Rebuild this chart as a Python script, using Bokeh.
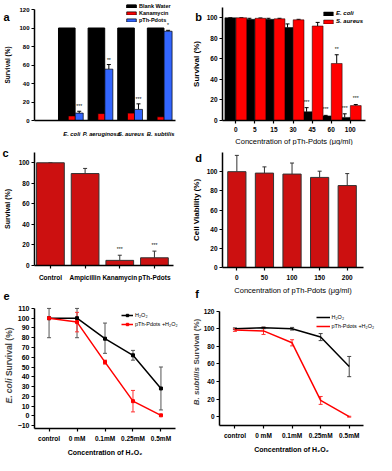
import numpy as np
from bokeh.plotting import figure
from bokeh.models import (Range1d, FixedTicker, Whisker, TeeHead, ColumnDataSource,
                          Legend, LegendItem, Label)
from bokeh.layouts import gridplot
from bokeh.embed import file_html
from bokeh.resources import INLINE
from bokeh.core.properties import value

FONT = "Liberation Sans"

# ---------------- data ----------------
# Panel a
a_species = ["E. coli", "P. aeruginosa", "S. aureus", "B. subtilis"]
a_water = [100, 100, 100, 100]
a_kana = [5, 7.5, 8, 4]
a_kana_err = [1, 1.5, 2.5, 0.5]
a_pdots = [8, 55.5, 12, 96.5]
a_pdots_err = [2, 5, 6, 1]
a_kana_sig = ["***", "***", "***", "***"]
a_pdots_sig = ["***", "**", "***", "*"]

# Panel b
b_conc = ["0", "5", "15", "30", "45", "60", "100"]
b_ecoli = [100, 98.5, 98.5, 90.5, 8.5, 4.5, 3]
b_ecoli_err = [0, 1, 1, 3.5, 4, 0.5, 3.5]
b_saureus = [100, 99.5, 99, 98, 92, 55.5, 14.5]
b_saureus_err = [0, 0.3, 0.5, 0.5, 3.5, 8.5, 1]
b_ecoli_sig = ["", "", "", "", "***", "***", "***"]
b_saureus_sig = ["", "", "", "", "", "**", "***"]

# Panel c
c_treat = ["Control", "Ampicillin", "Kanamycin", "pTh-Pdots"]
c_surv = [100, 89.5, 5, 7.5]
c_err = [0, 5, 5, 6.5]
c_sig = ["", "", "***", "***"]

# Panel d
d_conc = ["0", "50", "100", "150", "200"]
d_viab = [100, 98.5, 97.5, 94, 85.5]
d_err = [17, 6.5, 11.5, 6.5, 12.5]

# Panels e / f
h_cats = ["control", "0 mM", "0.1mM", "0.25mM", "0.5mM"]
e_h2o2 = [100, 100, 79, 62, 28]
e_h2o2_lo = [80, 80, 64, 57, 6]
e_h2o2_hi = [110, 110, 95, 67, 50]
e_pd = [100, 96, 55, 15, 0.5]
e_pd_lo = [100, 86, 53, 4, 0]
e_pd_hi = [100, 106, 57, 26, 1]

f_h2o2 = [100, 101, 100, 90.5, 57]
f_h2o2_err = [1, 1, 1.5, 4, 11.5]
f_pd = [98.5, 97.5, 84, 18.5, 0]
f_pd_err = [1.5, 4, 3.5, 4.5, 0.5]

RED = "#ff0000"
BLUE = "#3366ff"
DRED = "#cc1010"


# ---------------- helpers ----------------
def make_fig(w, h, xr, yr, bl, br, bt, bb, tick_size="6.5px", ybounds=None):
    """Frame fills the whole canvas; axes are pinned at the data edges (xr[0], yr[0])."""
    sx = (xr[1] - xr[0]) / (w - bl - br)
    sy = (yr[1] - yr[0]) / (h - bt - bb)
    xrange = Range1d(xr[0] - bl * sx, xr[1] + br * sx)
    yrange = Range1d(yr[0] - bb * sy, yr[1] + bt * sy)
    p = figure(width=w, height=h, x_range=xrange, y_range=yrange,
               output_backend="svg", toolbar_location=None,
               min_border_left=0, min_border_right=0,
               min_border_top=0, min_border_bottom=0)
    p.outline_line_color = None
    p.xgrid.visible = False
    p.ygrid.visible = False
    p.yaxis.fixed_location = xr[0]
    p.xaxis.fixed_location = yr[0]
    p.yaxis.bounds = ybounds if ybounds else (yr[0], yr[1])
    p.xaxis.bounds = (xr[0], xr[1])
    for ax in (p.xaxis[0], p.yaxis[0]):
        ax.axis_line_width = 1.5
        ax.axis_line_color = "black"
        ax.major_tick_line_width = 1.2
        ax.major_tick_out = 3
        ax.major_tick_in = 0
        ax.minor_tick_line_color = None
        ax.major_label_text_font = FONT
        ax.major_label_text_font_style = "bold"
        ax.major_label_text_font_size = tick_size
        ax.major_label_text_color = "black"
        ax.major_label_standoff = 2
        ax.axis_label_text_font = FONT
        ax.axis_label_text_font_style = "bold"
        ax.axis_label_text_color = "black"
        ax.axis_label_standoff = 3
    return p


def cat_axis(p, pos, labels):
    p.xaxis.ticker = FixedTicker(ticks=list(pos))
    p.xaxis.major_label_overrides = {float(t): l for t, l in zip(pos, labels)}


def errbars(p, x, lo, hi, color, cap=4, width=1.0, both=False):
    src = ColumnDataSource(dict(x=list(x), lo=list(lo), hi=list(hi)))
    w = Whisker(source=src, base="x", lower="lo", upper="hi", dimension="height",
                line_color=color, line_width=width,
                upper_head=TeeHead(size=cap, line_color=color, line_width=width),
                lower_head=TeeHead(size=cap, line_color=color, line_width=width) if both else None)
    p.add_layout(w)


def stars(p, x, y, txt):
    p.text(x=list(x), y=list(y), text=list(txt), text_font=value(FONT),
           text_font_size="5px", text_align="center", text_baseline="bottom",
           text_color="black")


def letter(p, txt, x, y, baseline="alphabetic"):
    p.add_layout(Label(x=x, y=y, x_units="screen", y_units="screen", text=txt,
                       text_font=FONT, text_font_size="11px", text_font_style="bold",
                       text_align="left", text_baseline=baseline, text_color="black"))


def legend(p, items, x, y, size="5.5px", style="bold", gw=12, gh=4, lh=7):
    lg = Legend(items=items, location=(x, y), orientation="vertical",
                label_text_font=FONT, label_text_font_size=size,
                label_text_font_style=style, label_text_color="black",
                glyph_width=gw, glyph_height=gh, label_height=lh, label_standoff=2,
                spacing=0, padding=0, margin=0,
                border_line_color=None, background_fill_alpha=0)
    p.add_layout(lg)


def ylabel_mixed(p, x, y, italic_part, rest, size):
    p.add_layout(Label(x=x, y=y + 1.2, x_units="screen", y_units="screen", angle=np.pi / 2,
                       text=rest, text_font=FONT, text_font_size=size,
                       text_font_style="bold", text_align="left", text_baseline="middle"))
    p.add_layout(Label(x=x, y=y - 1.2, x_units="screen", y_units="screen", angle=np.pi / 2,
                       text=italic_part, text_font=FONT, text_font_size=size,
                       text_font_style="bold italic", text_align="right", text_baseline="middle"))


# ---------------- panel a ----------------
xa = np.arange(len(a_species))
pa = make_fig(188, 145, (-1.09, 3.67), (0, 120), 34, 13, 9, 25, "6px")
pa.yaxis.ticker = FixedTicker(ticks=list(range(0, 121, 20)))
cat_axis(pa, xa + 0.17, a_species)
pa.xaxis.major_tick_line_color = None
pa.xaxis.major_label_text_font_style = "bold italic"
pa.xaxis.major_label_text_font_size = "5.8px"
pa.xaxis.major_label_standoff = 7
pa.yaxis.axis_label = "Survival (%)"
pa.yaxis.axis_label_text_font_size = "6.5px"
pa.yaxis.axis_label_standoff = 5
rw = pa.vbar(x=xa, top=a_water, width=0.56, fill_color="black", line_color="black")
rk = pa.vbar(x=xa + 0.17, top=a_kana, width=0.24, fill_color=RED, line_color="black", line_width=0.7)
rp = pa.vbar(x=xa + 0.42, top=a_pdots, width=0.27, fill_color=BLUE, line_color="black", line_width=0.7)
errbars(pa, xa + 0.17, a_kana, np.add(a_kana, a_kana_err), "black", cap=4)
errbars(pa, xa + 0.42, a_pdots, np.add(a_pdots, a_pdots_err), "black", cap=4)
stars(pa, xa + 0.17, np.add(a_kana, a_kana_err) + 2, a_kana_sig)
stars(pa, xa + 0.42, np.add(a_pdots, a_pdots_err) + 2, a_pdots_sig)
legend(pa, [LegendItem(label="Blank Water", renderers=[rw]),
            LegendItem(label="Kanamycin", renderers=[rk]),
            LegendItem(label="pTh-Pdots", renderers=[rp])], 125, 122)
letter(pa, "a", 3, 128.6)

# ---------------- panel b ----------------
xb = np.arange(len(b_conc))
pb = make_fig(188, 145, (-0.7, 6.8), (0, 110), 34, 11, 7, 25)
pb.yaxis.ticker = FixedTicker(ticks=list(range(0, 101, 20)))
cat_axis(pb, xb, b_conc)
pb.yaxis.axis_label = "Survival (%)"
pb.yaxis.axis_label_text_font_size = "8px"
pb.xaxis.axis_label = "Concentration of pTh-Pdots (\u03bcg/ml)"
pb.xaxis.axis_label_text_font_size = "7.5px"
pb.xaxis.axis_label_text_font_style = "normal"
pb.xaxis.major_label_standoff = 3
pb.xaxis.axis_label_standoff = 2
re_ = pb.vbar(x=xb - 0.29, top=b_ecoli, width=0.57, fill_color="black", line_color="black", line_width=0.5)
rs_ = pb.vbar(x=xb + 0.29, top=b_saureus, width=0.57, fill_color=RED, line_color="black", line_width=0.5)
errbars(pb, xb - 0.29, b_ecoli, np.add(b_ecoli, b_ecoli_err), "black", cap=4)
errbars(pb, xb + 0.29, b_saureus, np.add(b_saureus, b_saureus_err), "black", cap=4)
stars(pb, xb - 0.29, np.add(b_ecoli, b_ecoli_err) + 3, b_ecoli_sig)
stars(pb, xb + 0.29, np.add(b_saureus, b_saureus_err) + 3, b_saureus_sig)
legend(pb, [LegendItem(label="E. coli", renderers=[re_]),
            LegendItem(label="S. aureus", renderers=[rs_])], 134, 120,
       size="6px", style="bold italic", gw=12, gh=5, lh=8)
letter(pb, "b", 6.7, 128.9)

# ---------------- panel c ----------------
xc = np.arange(len(c_treat))
pc = make_fig(188, 155, (-0.46, 3.55), (0, 110), 34, 15, 7, 35)
pc.yaxis.ticker = FixedTicker(ticks=list(range(0, 101, 20)))
cat_axis(pc, xc, c_treat)
pc.yaxis.axis_label = "Survival (%)"
pc.yaxis.axis_label_text_font_size = "7px"
pc.yaxis.axis_label_standoff = 5
pc.xaxis.major_label_standoff = 5
pc.vbar(x=xc, top=c_surv, width=0.8, fill_color=DRED, line_color="#333333", line_width=1)
errbars(pc, xc, c_surv, np.add(c_surv, c_err), "#333333", cap=4)
stars(pc, xc, np.add(c_surv, c_err) + 3, c_sig)
letter(pc, "c", 2, 148)
letter(pc, "e", 3, 1, baseline="bottom")

# ---------------- panel d ----------------
xd = np.arange(len(d_conc))
pd_ = make_fig(188, 155, (-0.52, 4.59), (0, 120), 34, 13, 7, 33)
pd_.yaxis.ticker = FixedTicker(ticks=list(range(0, 101, 20)))
cat_axis(pd_, xd, d_conc)
pd_.yaxis.axis_label = "Cell Viability (%)"
pd_.yaxis.axis_label_text_font_size = "8px"
pd_.xaxis.axis_label = "Concentration of pTh-Pdots (\u03bcg/ml)"
pd_.xaxis.axis_label_text_font_size = "7.5px"
pd_.xaxis.axis_label_text_font_style = "normal"
pd_.xaxis.major_label_standoff = 4
pd_.xaxis.axis_label_standoff = 3
pd_.vbar(x=xd, top=d_viab, width=0.66, fill_color=DRED, line_color="#333333", line_width=1)
errbars(pd_, xd, d_viab, np.add(d_viab, d_err), "#333333", cap=4)
letter(pd_, "d", 6.7, 142.4)
letter(pd_, "f", 6.7, 1, baseline="bottom")

# ---------------- panel e ----------------
xe = np.arange(len(h_cats))
pe = make_fig(188, 155, (-0.52, 4.52), (-13, 113), 34, 13, 5, 27, "7px", ybounds=(-13, 110))
pe.yaxis.ticker = FixedTicker(ticks=list(range(-10, 111, 10)))
cat_axis(pe, xe, h_cats)
pe.xaxis.major_label_text_font_size = "6.5px"
pe.xaxis.axis_label = "Concentration of H\u2082O\u2082"
pe.xaxis.axis_label_text_font_size = "7px"
pe.xaxis.major_label_standoff = 3
pe.xaxis.axis_label_standoff = 4
errbars(pe, xe, e_h2o2_lo, e_h2o2_hi, "#555555", cap=4, both=True)
errbars(pe, xe, e_pd_lo, e_pd_hi, "#ff3030", cap=4, both=True)
le1 = pe.line(xe, e_h2o2, line_color="black", line_width=1.5)
me1 = pe.scatter(xe, e_h2o2, marker="square", size=3, fill_color="black", line_color="black")
le2 = pe.line(xe, e_pd, line_color=RED, line_width=1.5)
me2 = pe.scatter(xe, e_pd, marker="square", size=3, fill_color=RED, line_color=RED)
legend(pe, [LegendItem(label="H\u2082O\u2082", renderers=[le1, me1]),
            LegendItem(label="pTh-Pdots +H\u2082O\u2082", renderers=[le2, me2])], 121, 127,
       size="5.5px", style="normal", gw=12, gh=6, lh=9)
ylabel_mixed(pe, 8.6, 78.2, "E. coli", "Survival (%)", "8.5px")

# ---------------- panel f ----------------
pf = make_fig(188, 155, (-0.54, 4.5), (-10, 123), 31, 13, 8, 30, ybounds=(-10, 120))
pf.yaxis.ticker = FixedTicker(ticks=list(range(0, 121, 20)))
cat_axis(pf, xe, h_cats)
pf.xaxis.axis_label = "Concentration of H\u2082O\u2082"
pf.xaxis.axis_label_text_font_size = "7px"
pf.xaxis.major_label_standoff = 3
pf.xaxis.axis_label_standoff = 4
errbars(pf, xe, np.subtract(f_h2o2, f_h2o2_err), np.add(f_h2o2, f_h2o2_err), "#444444", cap=4, both=True)
errbars(pf, xe, np.subtract(f_pd, f_pd_err), np.add(f_pd, f_pd_err), "#ff3030", cap=4, both=True)
lf1 = pf.line(xe, f_h2o2, line_color="black", line_width=1.5)
lf2 = pf.line(xe, f_pd, line_color=RED, line_width=1.5)
legend(pf, [LegendItem(label="H\u2082O\u2082", renderers=[lf1]),
            LegendItem(label="pTh-Pdots +H\u2082O\u2082", renderers=[lf2])], 127.5, 125,
       size="5.5px", style="normal", gw=14, gh=6, lh=9)
ylabel_mixed(pf, 7.7, 89.7, "B. subtilis", "Survival (%)", "8px")

grid = gridplot([[pa, pb], [pc, pd_], [pe, pf]], toolbar_location=None)

open("out.html", "w").write(file_html(grid, INLINE))
